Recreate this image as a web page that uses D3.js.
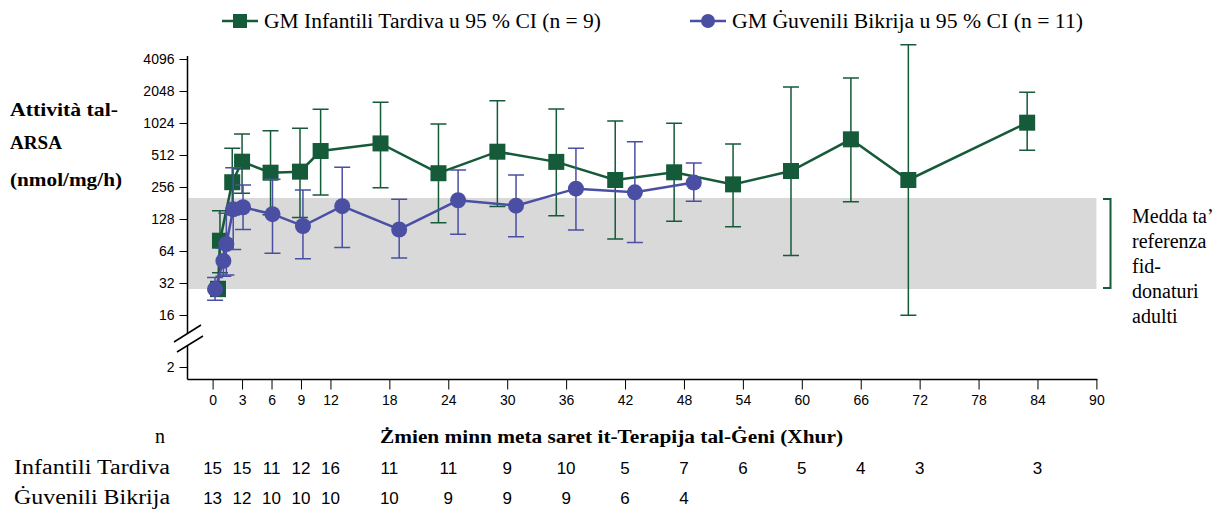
<!DOCTYPE html>
<html>
<head>
<meta charset="utf-8">
<script src="https://cdn.jsdelivr.net/npm/d3@7"></script>
<style>
  body { margin: 0; background: #fff; }
  svg { display: block; }
</style>
</head>
<body>
<svg id="viz"></svg>
<script>
// data
const lateMonths = [0.55, 0.75, 2, 3, 5.9, 8.9, 11, 17.1, 23, 29, 35, 41, 47, 53, 58.9, 65, 70.85, 82.95];
const lateGM = [28, 80, 284, 443, 349, 357, 558, 658, 345, 550, 441, 298, 352, 271, 362, 719, 298, 1031];
const lateLo = [24, 40, 140, 223, 140, 132, 215, 252, 118, 168, 137, 83, 122, 108, 58, 186, 15.8, 567];
const lateHi = [33, 153, 592, 808, 866, 912, 1376, 1605, 1003, 1660, 1386, 1070, 1017, 648, 2233, 2720, 5580, 1990];

const juvMonths = [0.25, 1.1, 1.4, 2.1, 3.1, 6.1, 9.2, 13.2, 19, 25, 30.9, 37, 43, 49];
const juvGM = [28, 51.6, 74.5, 158, 165, 142, 110, 169, 102, 192, 171, 247, 228, 282];
const juvLo = [22, 37, 38, 66, 102, 61, 54, 69, 55, 92, 87, 101, 77, 188];
const juvHi = [36, 68, 145, 388, 267, 302, 240, 393, 196, 370, 332, 592, 683, 431];

const xTicks = [0, 3, 6, 9, 12, 18, 24, 30, 36, 42, 48, 54, 60, 66, 72, 78, 84, 90];
const yTicks = [2, 16, 32, 64, 128, 256, 512, 1024, 2048, 4096];
const refRange = [28.1, 202];

const nLateMonths = [0, 3, 6, 9, 12, 18, 24, 30, 36, 42, 48, 54, 60, 66, 72, 84];
const nLate = [15, 15, 11, 12, 16, 11, 11, 9, 10, 5, 7, 6, 5, 4, 3, 3];
const nJuvMonths = [0, 3, 6, 9, 12, 18, 24, 30, 36, 42, 48];
const nJuv = [13, 12, 10, 10, 10, 10, 9, 9, 9, 6, 4];

const green = "#155a39";
const blue = "#4a4fa3";
const serif = "'Liberation Serif', 'Times New Roman', serif";
const sans = "'Liberation Sans', Arial, sans-serif";

const width = 1232;
const height = 514;

const svg = d3.select("#viz").attr("width", width).attr("height", height);

// scales (y axis is broken between 2 and 16)
const x = d3.scaleLinear().domain([0, 90]).range([212.6, 1096.4]);
const y = d3.scaleLog().base(2).domain([2, 16, 4096]).range([367, 315, 59]);
const axisX = 187.5;
const axisY = 379.5;

// reference band
svg
  .append("rect")
  .attr("x", axisX)
  .attr("y", y(refRange[1]))
  .attr("width", x(90) - axisX)
  .attr("height", y(refRange[0]) - y(refRange[1]))
  .attr("fill", "#d9d9d9");

// bracket + label
const bTop = y(refRange[1]) + 1;
const bBot = y(refRange[0]) - 1;
svg
  .append("path")
  .attr("d", `M1103,${bTop}H1110.5V${bBot}H1103`)
  .attr("fill", "none")
  .attr("stroke", green)
  .attr("stroke-width", 2);

const refLabel = ["Medda ta’", "referenza", "fid-", "donaturi", "adulti"];
svg
  .append("g")
  .selectAll("text")
  .data(refLabel)
  .enter()
  .append("text")
  .attr("x", 1132)
  .attr("y", (d, i) => 223 + i * 25)
  .attr("font-family", serif)
  .attr("font-size", 20)
  .text((d) => d);

// x axis
const xAxis = svg
  .append("g")
  .attr("transform", `translate(0,${axisY})`)
  .call(d3.axisBottom(x).tickValues(xTicks).tickSize(10).tickSizeOuter(0).tickPadding(6));
xAxis.select(".domain").remove();
xAxis.selectAll("line").attr("stroke", "#000");
xAxis.selectAll("text").attr("font-family", sans).attr("font-size", 14).attr("fill", "#000");
svg
  .append("line")
  .attr("x1", axisX)
  .attr("x2", x(90) + 1)
  .attr("y1", axisY)
  .attr("y2", axisY)
  .attr("stroke", "#000")
  .attr("stroke-width", 1.5);

// y axis
const yAxis = svg
  .append("g")
  .attr("transform", `translate(${axisX},0)`)
  .call(d3.axisLeft(y).tickValues(yTicks).tickFormat(d3.format("d")).tickSize(8).tickSizeOuter(0).tickPadding(5));
yAxis.select(".domain").remove();
yAxis.selectAll("line").attr("stroke", "#000");
yAxis.selectAll("text").attr("font-family", sans).attr("font-size", 14).attr("fill", "#000");

// y axis line with gap for the break
svg
  .append("path")
  .attr("d", `M${axisX},56V333M${axisX},346V${axisY}`)
  .attr("stroke", "#000")
  .attr("stroke-width", 1.5);
svg
  .append("path")
  .attr("d", "M174,342L201,325M177,352L203,336")
  .attr("stroke", "#000")
  .attr("stroke-width", 1.5);

// build series
function series(months, gm, lo, hi) {
  return months.map((m, i) => ({ m: m, gm: gm[i], lo: lo[i], hi: hi[i] }));
}
const late = series(lateMonths, lateGM, lateLo, lateHi);
const juv = series(juvMonths, juvGM, juvLo, juvHi);

function drawSeries(data, color, shape) {
  const g = svg.append("g");
  const cap = 8;

  // error bars
  g.selectAll(".eb")
    .data(data)
    .enter()
    .append("path")
    .attr("d", (d) => {
      const cx = x(d.m);
      return `M${cx},${y(d.lo)}V${y(d.hi)}M${cx - cap},${y(d.hi)}H${cx + cap}M${cx - cap},${y(d.lo)}H${cx + cap}`;
    })
    .attr("fill", "none")
    .attr("stroke", color)
    .attr("stroke-width", 1.5);

  // connecting line
  g.append("path")
    .datum(data)
    .attr("d", d3.line().x((d) => x(d.m)).y((d) => y(d.gm)))
    .attr("fill", "none")
    .attr("stroke", color)
    .attr("stroke-width", 2.5);

  // markers
  if (shape === "square") {
    g.selectAll(".pt")
      .data(data)
      .enter()
      .append("rect")
      .attr("x", (d) => x(d.m) - 8)
      .attr("y", (d) => y(d.gm) - 8)
      .attr("width", 16)
      .attr("height", 16)
      .attr("fill", color);
  } else {
    g.selectAll(".pt")
      .data(data)
      .enter()
      .append("circle")
      .attr("cx", (d) => x(d.m))
      .attr("cy", (d) => y(d.gm))
      .attr("r", 8)
      .attr("fill", color);
  }
}

drawSeries(late, green, "square");
drawSeries(juv, blue, "circle");

// legend
const legend = [
  { label: "GM Infantili Tardiva u 95 % CI (n = 9)", color: green, shape: "square", x0: 222, tx: 264, tw: 337 },
  { label: "GM Ġuvenili Bikrija u 95 % CI (n = 11)", color: blue, shape: "circle", x0: 690, tx: 732, tw: 351 },
];
legend.forEach((l) => {
  svg
    .append("line")
    .attr("x1", l.x0)
    .attr("x2", l.x0 + 36)
    .attr("y1", 21)
    .attr("y2", 21)
    .attr("stroke", l.color)
    .attr("stroke-width", 2.5);
  if (l.shape === "square") {
    svg.append("rect").attr("x", l.x0 + 11).attr("y", 14).attr("width", 14).attr("height", 14).attr("fill", l.color);
  } else {
    svg.append("circle").attr("cx", l.x0 + 18).attr("cy", 21).attr("r", 7).attr("fill", l.color);
  }
  svg
    .append("text")
    .attr("x", l.tx)
    .attr("y", 28)
    .attr("font-family", serif)
    .attr("font-size", 20)
    .attr("textLength", l.tw)
    .attr("lengthAdjust", "spacingAndGlyphs")
    .text(l.label);
});

// y axis title
const yTitle = ["Attività tal-", "ARSA", "(nmol/mg/h)"];
const yTitleW = [108, 52, 112];
svg
  .append("g")
  .selectAll("text")
  .data(yTitle)
  .enter()
  .append("text")
  .attr("x", 10)
  .attr("y", (d, i) => [116, 149, 186][i])
  .attr("font-family", serif)
  .attr("font-weight", "bold")
  .attr("font-size", 19)
  .attr("textLength", (d, i) => yTitleW[i])
  .attr("lengthAdjust", "spacingAndGlyphs")
  .text((d) => d);

// x axis title
svg
  .append("text")
  .attr("x", 380)
  .attr("y", 443)
  .attr("font-family", serif)
  .attr("font-weight", "bold")
  .attr("font-size", 18)
  .attr("textLength", 463)
  .attr("lengthAdjust", "spacingAndGlyphs")
  .text("Żmien minn meta saret it-Terapija tal-Ġeni (Xhur)");

// n table
svg
  .append("text")
  .attr("x", 160)
  .attr("y", 443)
  .attr("font-family", serif)
  .attr("font-size", 20)
  .attr("text-anchor", "middle")
  .text("n");

const rows = [
  { label: "Infantili Tardiva", months: nLateMonths, n: nLate, y: 474 },
  { label: "Ġuvenili Bikrija", months: nJuvMonths, n: nJuv, y: 504 },
];
rows.forEach((r) => {
  svg
    .append("text")
    .attr("x", 14)
    .attr("y", r.y)
    .attr("font-family", serif)
    .attr("font-size", 20)
    .attr("textLength", 156)
    .attr("lengthAdjust", "spacingAndGlyphs")
    .text(r.label);
  svg
    .append("g")
    .selectAll("text")
    .data(r.n)
    .enter()
    .append("text")
    .attr("x", (d, i) => x(r.months[i]))
    .attr("y", r.y)
    .attr("text-anchor", "middle")
    .attr("font-family", sans)
    .attr("font-size", 17)
    .text((d) => d);
});
</script>
</body>
</html>
